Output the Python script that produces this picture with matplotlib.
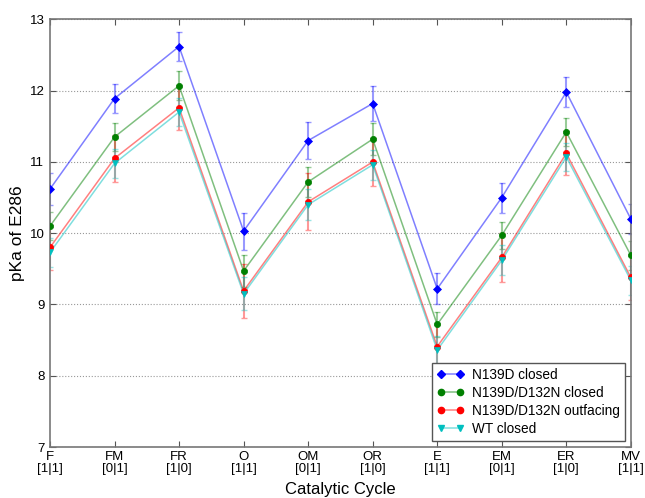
import matplotlib
matplotlib.use("Agg")
import matplotlib.pyplot as plt
import numpy as np
from matplotlib.lines import Line2D

plt.rcParams['font.family'] = ['Liberation Sans', 'DejaVu Sans']

states = ["F", "FM", "FR", "O", "OM", "OR", "E", "EM", "ER", "MV"]
occupancy = ["[1|1]", "[0|1]", "[1|0]", "[1|1]", "[0|1]", "[1|0]", "[1|1]", "[0|1]", "[1|0]", "[1|1]"]

n139d_closed = [10.62, 11.89, 12.62, 10.03, 11.30, 11.82, 9.22, 10.50, 11.98, 10.20]
n139d_closed_err = [0.22, 0.20, 0.21, 0.26, 0.26, 0.24, 0.22, 0.21, 0.21, 0.21]

dn_closed = [10.10, 11.35, 12.07, 9.47, 10.72, 11.32, 8.72, 9.97, 11.42, 9.69]
dn_closed_err = [0.20, 0.20, 0.20, 0.22, 0.21, 0.22, 0.18, 0.19, 0.20, 0.20]

dn_outfacing = [9.80, 11.05, 11.76, 9.19, 10.44, 11.00, 8.41, 9.66, 11.12, 9.38]
dn_outfacing_err = [0.32, 0.33, 0.31, 0.38, 0.40, 0.34, 0.31, 0.35, 0.31, 0.32]

wt_closed = [9.73, 10.98, 11.70, 9.15, 10.40, 10.96, 8.36, 9.62, 11.07, 9.34]
wt_closed_err = [0.20, 0.20, 0.20, 0.23, 0.22, 0.21, 0.20, 0.21, 0.20, 0.20]

series = [
    ("N139D closed", n139d_closed, n139d_closed_err, (0, 0, 1), "D", 4),
    ("N139D/D132N closed", dn_closed, dn_closed_err, (0, 0.5, 0), "o", 4.5),
    ("N139D/D132N outfacing", dn_outfacing, dn_outfacing_err, (1, 0, 0), "o", 4.5),
    ("WT closed", wt_closed, wt_closed_err, (0, 0.75, 0.75), "v", 4.5),
]

fig = plt.figure(figsize=(6.45, 4.98), dpi=100)
ax = fig.add_axes([0.0775, 0.1024, 0.9005, 0.8586])

x = np.arange(len(states))
for label, vals, errs, col, mk, ms in series:
    ax.errorbar(x, vals, yerr=errs, color=col, alpha=0.4, lw=1.0, fmt='none',
                capsize=2, elinewidth=1.5, capthick=1, zorder=2)
    ax.plot(x, vals, linestyle='-', color=col, alpha=0.5, lw=1.1, zorder=3)
    ax.plot(x, vals, linestyle='none', marker=mk, markersize=ms,
            markerfacecolor=col, markeredgecolor=col, markeredgewidth=0.5,
            zorder=4)

handles = []
for _, _, _, col, mk, ms in series:
    line = Line2D([], [], color=col, lw=1.1, alpha=0.5)
    mark = Line2D([], [], linestyle='none', marker=mk, markersize=ms,
                  markerfacecolor=col, markeredgecolor=col)
    handles.append((line, mark))
labels = [s[0] for s in series]
leg = ax.legend(handles, labels, loc='lower right', numpoints=2, fontsize=9.8,
                frameon=True, fancybox=False, borderpad=0.35, labelspacing=0.3,
                handlelength=2.0, handletextpad=0.6, borderaxespad=0.45)
leg.get_frame().set_edgecolor('#555555')
leg.get_frame().set_linewidth(1.0)
leg.get_frame().set_alpha(1.0)

ax.set_xlim(0, len(states) - 1)
ax.set_ylim(7, 13)
ax.set_xticks(x)
ax.set_xticklabels([f"{s}\n{o}" for s, o in zip(states, occupancy)], fontsize=9.5,
                   linespacing=1.0)
ax.set_yticks([7, 8, 9, 10, 11, 12, 13])
ax.tick_params(axis='both', direction='in', top=True, right=True, length=4,
               labelsize=9.5, color='#555555', pad=3)
ax.tick_params(axis='y', pad=4)
ax.yaxis.grid(True, linestyle=':', color='#999999', lw=0.8)
for sp in ax.spines.values():
    sp.set_color('#777777')
    sp.set_linewidth(1.2)

ax.set_ylabel("pKa of E286", fontsize=12.5, labelpad=3)
ax.set_xlabel("Catalytic Cycle", fontsize=12, labelpad=5)

fig.savefig("out.png", dpi=100)
